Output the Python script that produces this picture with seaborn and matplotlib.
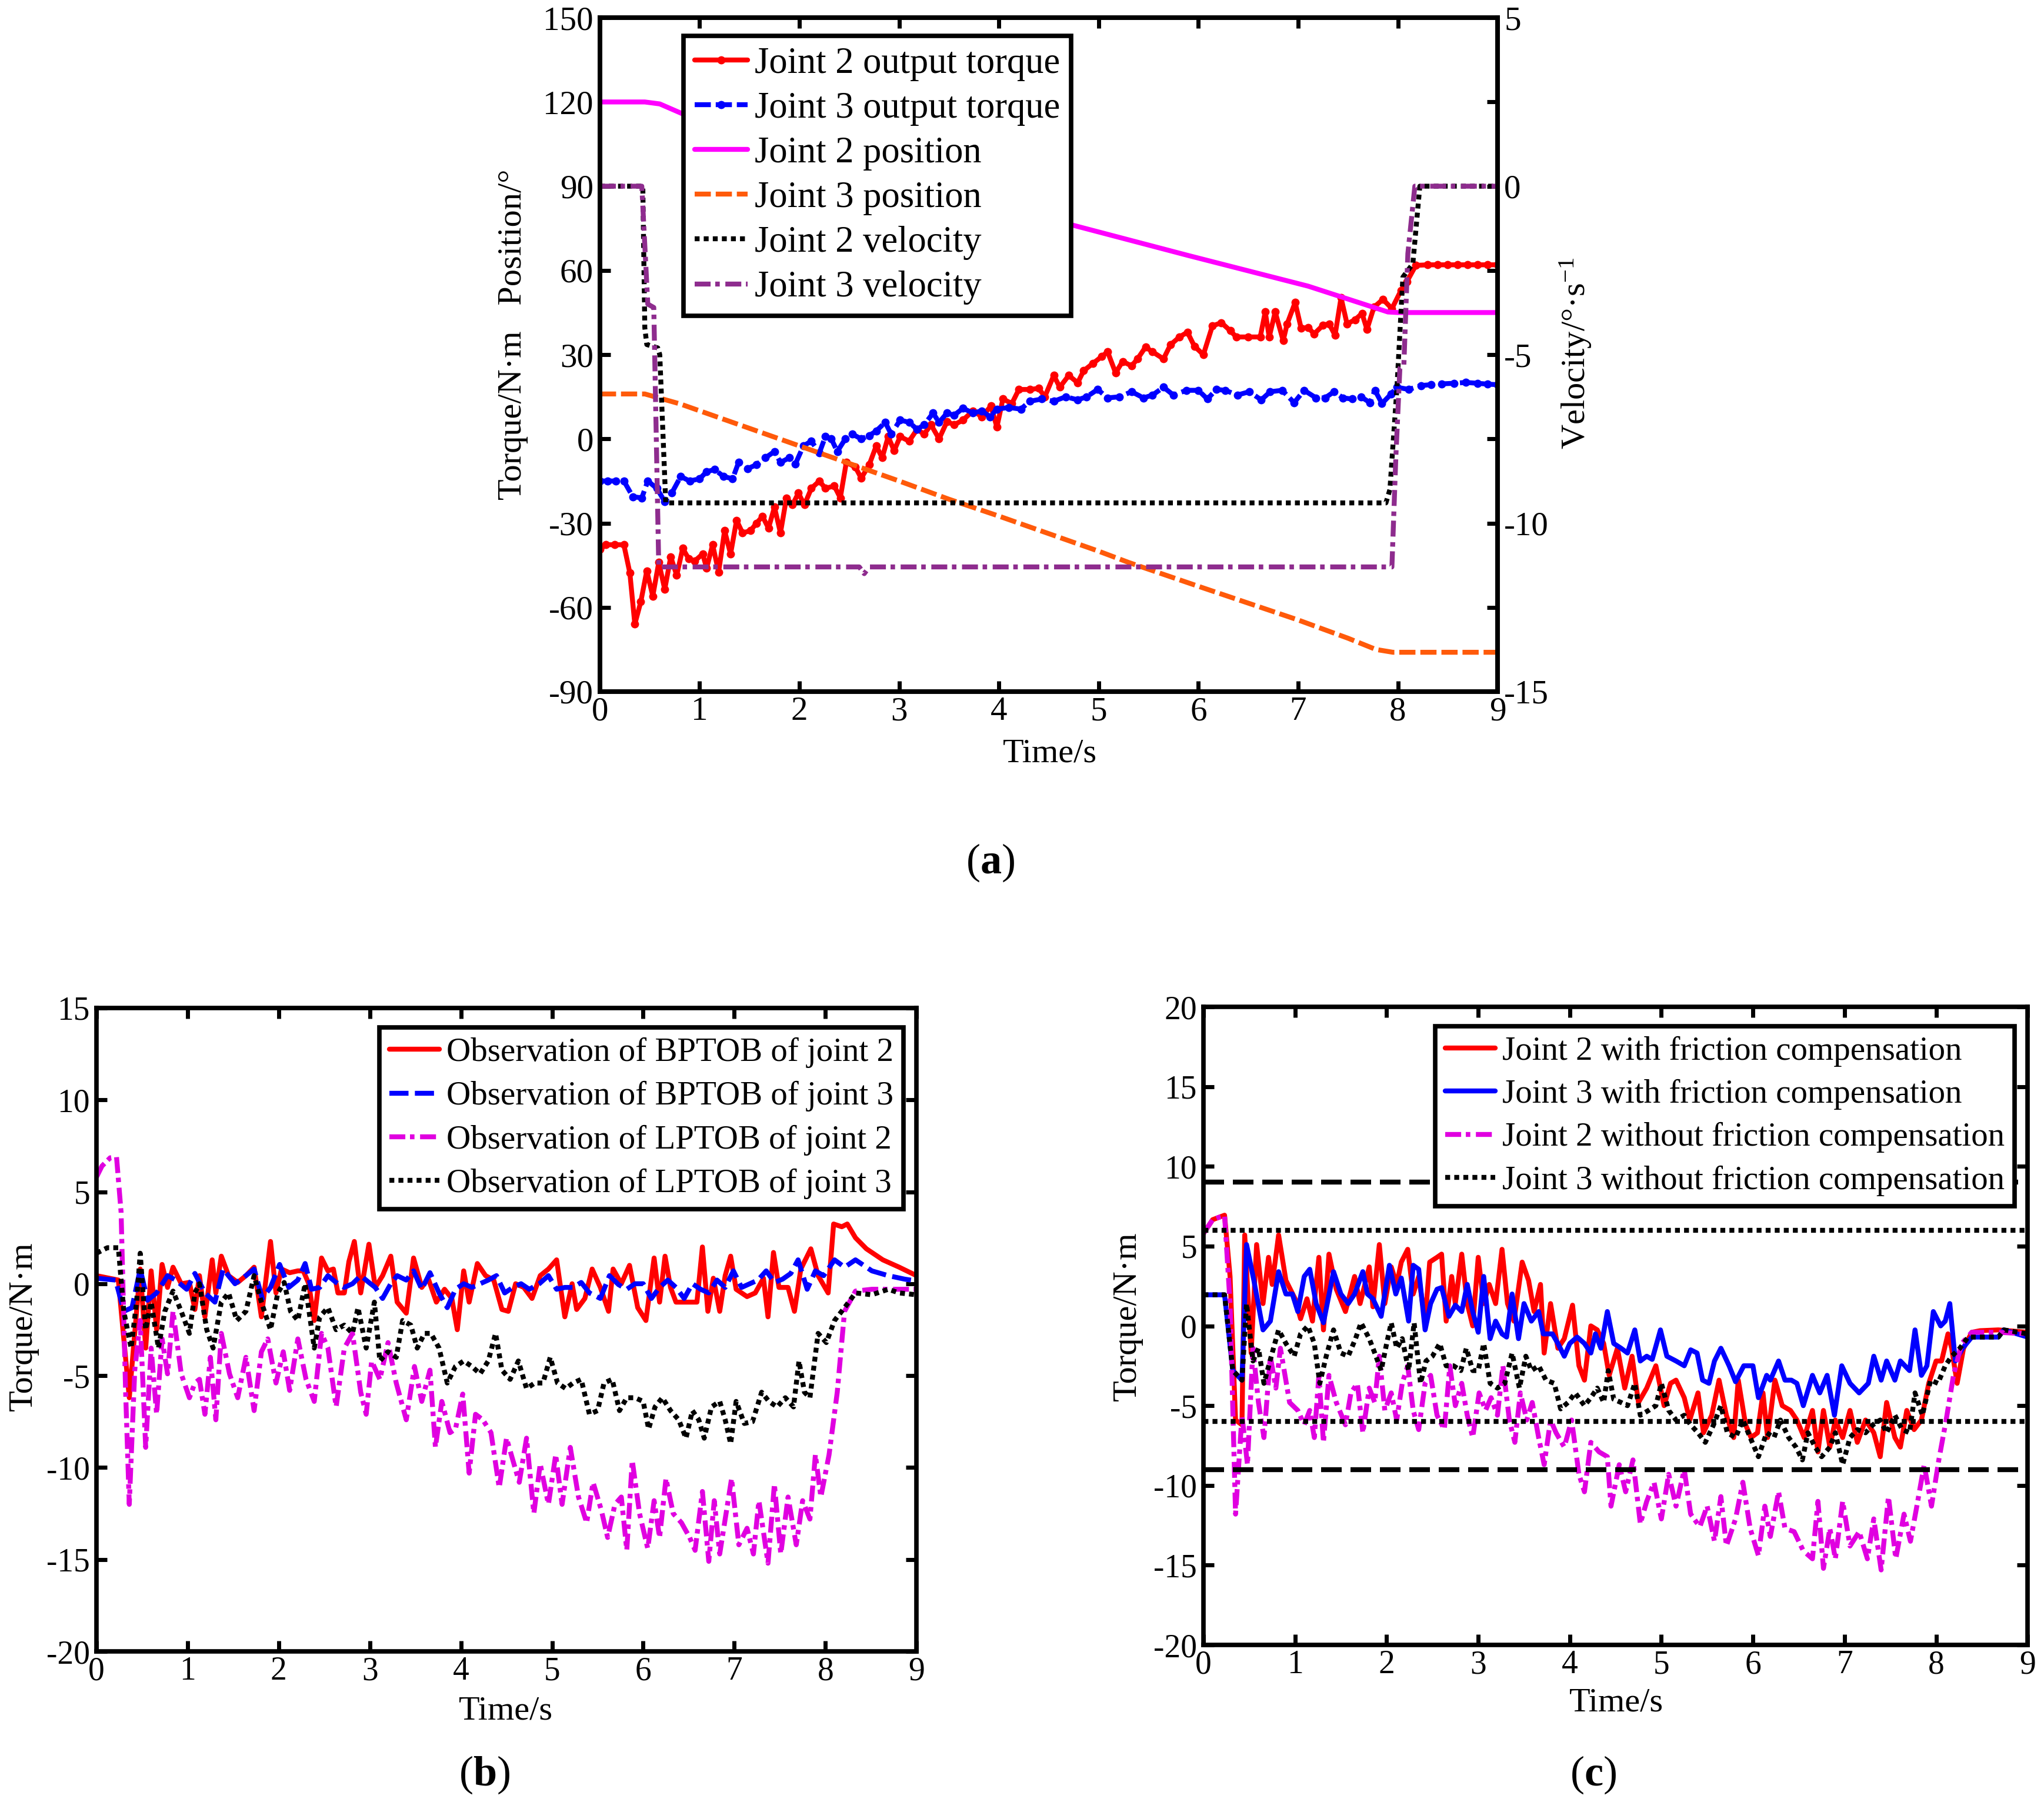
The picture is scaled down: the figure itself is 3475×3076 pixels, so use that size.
import numpy as np
import matplotlib
matplotlib.use("Agg")
import matplotlib.pyplot as plt
import seaborn as sns

# ---------------- data (time [s], value) ----------------
# (a) torque [N*m] and position [deg] on left axis, velocity [deg/s] on right axis
j2_torque = np.array([
    (0, -39.4), (0.06, -37.7), (0.15, -37.7), (0.24, -37.7), (0.3, -47.7), (0.35, -66), (0.41, -58),
    (0.47, -47), (0.53, -56), (0.59, -44), (0.65, -53.6), (0.71, -42), (0.77, -48.6), (0.83, -39),
    (0.89, -42.7), (0.95, -43.5), (1.03, -41), (1.07, -46), (1.13, -37.7), (1.19, -47.4), (1.25, -32.7),
    (1.31, -41), (1.37, -29), (1.43, -33.5), (1.51, -32.7), (1.57, -30), (1.63, -27.6), (1.69, -31.8),
    (1.75, -24.3), (1.81, -33.5), (1.87, -21), (1.93, -23.5), (1.99, -19.3), (2.05, -23.5), (2.12, -17.6),
    (2.2, -15), (2.26, -17.6), (2.35, -16.8), (2.41, -21), (2.47, -8.4), (2.56, -10), (2.62, -14),
    (2.7, -9.2), (2.77, -2.5), (2.83, -6.7), (2.89, 0.8), (2.95, -4.2), (3.01, 0.8), (3.1, -0.8),
    (3.18, 3.4), (3.25, 1.7), (3.32, 5), (3.4, 0), (3.48, 6.2), (3.55, 5), (3.64, 6.7), (3.74, 10),
    (3.83, 7.9), (3.92, 11.7), (3.98, 4.2), (4.04, 14.2), (4.13, 12.6), (4.2, 17.6), (4.31, 17.6),
    (4.4, 18), (4.46, 15), (4.55, 22.6), (4.61, 18.4), (4.7, 22.6), (4.79, 20), (4.85, 24.3),
    (4.94, 26.8), (5.03, 29.3), (5.09, 31), (5.17, 23.5), (5.24, 27.6), (5.33, 26), (5.39, 28.5),
    (5.47, 32.7), (5.54, 31), (5.65, 28.5), (5.72, 33.5), (5.81, 36.3), (5.89, 38), (5.96, 33),
    (6.05, 30), (6.14, 40.2), (6.23, 41.4), (6.32, 38.5), (6.38, 36.3), (6.5, 36.3), (6.62, 36.3),
    (6.67, 45.2), (6.71, 36.3), (6.77, 45.2), (6.85, 35), (6.89, 41), (6.97, 48.6), (7.03, 39.4),
    (7.1, 39.7), (7.16, 37.4), (7.25, 40.5), (7.31, 41), (7.37, 36.9), (7.43, 50.3), (7.49, 41),
    (7.57, 42.4), (7.64, 44.7), (7.69, 39), (7.76, 46.9), (7.85, 49.7), (7.94, 46.4), (8.03, 52.8),
    (8.09, 56), (8.18, 61.8), (8.3, 62), (8.4, 62), (8.5, 62), (8.6, 62), (8.7, 62), (8.8, 62),
    (8.9, 62), (9.0, 62)])

j3_torque = np.array([
    (0, -15), (0.08, -15), (0.16, -15), (0.24, -15), (0.33, -20.6), (0.42, -21), (0.48, -15),
    (0.57, -17.6), (0.65, -22.3), (0.72, -19.3), (0.81, -13.4), (0.9, -15), (1.0, -14.2), (1.07, -11.7),
    (1.15, -10.9), (1.24, -13.4), (1.33, -14.2), (1.39, -8.4), (1.48, -10.6), (1.57, -9.2), (1.66, -6.7),
    (1.75, -4.5), (1.81, -8.4), (1.9, -6.7), (1.96, -8.9), (2.04, -2.5), (2.12, -0.8), (2.2, -5),
    (2.26, 0.8), (2.32, 0), (2.38, -4.5), (2.46, 0), (2.53, 1.7), (2.62, 0), (2.7, 1.2), (2.77, 2.8),
    (2.86, 5.9), (2.92, 1.7), (3.01, 6.7), (3.1, 5.9), (3.18, 3.4), (3.25, 5), (3.34, 9.2), (3.4, 5.9),
    (3.48, 9.2), (3.55, 8.4), (3.64, 10.9), (3.74, 9.2), (3.83, 10), (3.91, 7.9), (3.98, 10.6),
    (4.1, 11.2), (4.22, 10.6), (4.31, 13.4), (4.43, 14.2), (4.55, 13.4), (4.67, 15), (4.79, 13.9),
    (4.88, 15), (4.99, 17.6), (5.09, 14.6), (5.21, 15), (5.33, 16.8), (5.45, 14.6), (5.54, 15.6),
    (5.65, 18.4), (5.75, 15.6), (5.88, 17.3), (6.0, 17.3), (6.09, 14.2), (6.18, 17.6), (6.27, 17.3),
    (6.39, 15.6), (6.51, 16.8), (6.63, 13.9), (6.72, 16.8), (6.84, 17.3), (6.96, 12.9), (7.06, 17.3),
    (7.18, 14.6), (7.27, 14.6), (7.36, 16.8), (7.45, 14.6), (7.54, 14.2), (7.63, 15), (7.72, 12.9),
    (7.77, 17.3), (7.84, 12.6), (7.93, 15.9), (7.99, 18.4), (8.11, 17.6), (8.23, 19), (8.33, 19.3),
    (8.44, 19.6), (8.56, 19.8), (8.68, 20.1), (8.8, 19.8), (8.9, 19.5), (9.0, 19.3)])

j2_position = np.array([
    (0, 120), (0.45, 120), (0.6, 119.3), (0.84, 115.6), (1.2, 112), (2, 104), (3, 94), (4, 84),
    (4.7, 76.5), (5.9, 65.3), (7.1, 54.4), (7.7, 47.5), (7.9, 45.2), (8.0, 45), (9.0, 45)])

j3_position = np.array([
    (0, 16), (0.45, 16), (0.6, 14.5), (0.8, 12.5), (1.0, 10), (2, -2.5), (3, -15), (3.5, -21.5),
    (4, -27.5), (5, -40), (5.3, -44), (6, -52.5), (7, -64.5), (7.5, -71), (7.78, -75), (7.95, -76),
    (9.0, -76)])

j2_velocity = np.array([
    (0, 0), (0.43, 0), (0.45, -4.2), (0.47, -4.7), (0.58, -4.8), (0.6, -5), (0.66, -9.4),
    (7.88, -9.4), (7.92, -9.0), (7.99, -6.0), (8.05, -2.7), (8.15, -2.3), (8.22, 0), (9.0, 0)])

j3_velocity = np.array([
    (0, 0), (0.42, 0), (0.48, -3.5), (0.54, -3.6), (0.59, -11.3), (2.6, -11.3), (2.65, -11.5),
    (2.7, -11.3), (7.94, -11.3), (7.98, -8), (8.02, -5.4), (8.06, -5.3), (8.1, -2), (8.17, 0),
    (9.0, 0)])

a_labels = ["Joint 2 output torque", "Joint 3 output torque", "Joint 2 position",
            "Joint 3 position", "Joint 2 velocity", "Joint 3 velocity"]

# (b) observer outputs [N*m]
bptob_j2 = np.array([
    (0, 0.44), (0.24, 0.2), (0.3, -3), (0.36, -6.2), (0.44, -1.5), (0.48, 0.8), (0.54, -3.5), (0.6, 0.7),
    (0.66, -2.5), (0.72, 1.05), (0.78, -0.2), (0.84, 0.9), (0.93, 0), (1.02, 0.07), (1.08, -1.4),
    (1.13, 0.44), (1.19, -1.8), (1.27, 1.3), (1.31, -0.5), (1.37, 1.5), (1.45, 0.44), (1.55, 0.07),
    (1.64, 0.44), (1.73, 0.9), (1.81, -1.8), (1.91, 2.3), (1.97, -0.5), (2.03, 0.8), (2.12, 0.6),
    (2.21, 0.7), (2.27, 0.7), (2.33, 0), (2.39, -2), (2.47, 1.4), (2.54, 0.7), (2.6, 0.8), (2.65, -0.5),
    (2.72, -0.5), (2.77, 1.2), (2.83, 2.3), (2.9, -0.5), (2.99, 2.15), (3.06, -0.2), (3.14, 0.44),
    (3.23, 1.5), (3.3, -1), (3.4, -1.6), (3.48, 1.4), (3.57, -0.2), (3.64, 0.3), (3.73, -1), (3.82, -0.3),
    (3.9, -0.8), (3.96, -2.5), (4.03, 0.7), (4.09, -1), (4.18, 1.1), (4.27, 0.44), (4.36, 0.2),
    (4.45, -1.4), (4.52, -1.5), (4.6, 0), (4.69, -0.2), (4.78, -0.8), (4.87, 0.44), (4.96, 0.8),
    (5.05, 1.3), (5.14, -1.8), (5.22, 0), (5.27, -1.4), (5.36, -0.8), (5.44, 0.8), (5.53, -0.2),
    (5.62, -1.5), (5.67, 0.8), (5.76, 0), (5.85, 1), (5.94, -1.3), (6.03, -2), (6.12, 1.4), (6.18, -1),
    (6.24, 1.5), (6.3, -0.2), (6.36, -1), (6.48, -1), (6.59, -1), (6.65, 2), (6.71, -1.5), (6.77, 0.3),
    (6.84, -1.5), (6.9, 0.44), (6.96, 1.5), (7.02, -0.3), (7.14, -0.7), (7.23, -0.5), (7.32, 0.3),
    (7.37, -1.8), (7.43, 1.7), (7.49, -0.2), (7.59, -0.2), (7.66, -1.5), (7.73, 0.8), (7.84, 1.9),
    (7.92, 0.44), (8.03, -0.5), (8.09, 3.25), (8.18, 3.1), (8.24, 3.25), (8.33, 2.5), (8.45, 1.9),
    (8.63, 1.3), (8.81, 0.9), (9.0, 0.44)])

bptob_j3 = np.array([
    (0, 0.3), (0.21, 0.2), (0.3, -1.5), (0.39, -1.3), (0.48, 0.8), (0.56, -0.9), (0.66, -0.5),
    (0.78, 0.44), (0.87, 0.2), (0.99, -0.3), (1.08, 0.56), (1.19, -0.5), (1.3, -1), (1.39, 0.8),
    (1.52, 0), (1.64, 0.44), (1.73, 0.8), (1.82, -0.8), (1.91, -0.2), (2.01, 1.05), (2.11, -0.2),
    (2.21, 0.2), (2.29, 1.1), (2.36, -0.3), (2.45, -0.2), (2.54, 0.44), (2.63, 0.07), (2.72, -0.2),
    (2.81, 0), (2.9, 0.44), (2.99, 0.07), (3.06, -0.2), (3.14, -0.8), (3.23, 0), (3.3, 0.44), (3.4, 0.2),
    (3.48, 0.7), (3.57, -0.3), (3.66, 0.6), (3.76, -0.5), (3.85, -1.3), (3.94, -0.3), (4.03, 0),
    (4.12, -0.2), (4.21, 0), (4.3, 0.2), (4.39, 0.44), (4.48, -0.5), (4.57, -0.2), (4.66, 0),
    (4.75, -0.3), (4.86, 0), (4.96, 0.44), (5.05, -0.3), (5.14, -0.2), (5.23, -0.2), (5.32, 0.07),
    (5.41, -0.5), (5.53, -0.8), (5.63, 0.44), (5.73, -0.05), (5.82, -0.3), (5.91, 0), (6.0, 0),
    (6.09, -0.8), (6.18, -0.2), (6.27, 0.2), (6.36, -0.2), (6.45, -0.8), (6.54, 0), (6.63, -0.3),
    (6.72, -0.5), (6.81, 0.2), (6.9, -0.2), (6.99, 0.7), (7.08, -0.2), (7.17, 0), (7.26, 0.2),
    (7.35, 0.7), (7.44, 0.07), (7.53, 0.25), (7.62, 0.56), (7.7, 1.3), (7.8, -0.3), (7.89, 0.7),
    (7.98, 0.44), (8.1, 1.3), (8.21, 0.9), (8.33, 1.3), (8.51, 0.7), (8.69, 0.44), (8.87, 0.25),
    (9.0, 0.15)])

lptob_j2 = np.array([
    (0, 5.8), (0.06, 6.4), (0.15, 6.85), (0.22, 6.9), (0.27, 3.9), (0.32, -5.9), (0.36, -12),
    (0.42, -4.7), (0.48, -2), (0.54, -8.9), (0.6, -3.5), (0.66, -7.1), (0.72, -3), (0.78, -4.9),
    (0.84, -1.5), (0.93, -4.9), (1.02, -6.2), (1.08, -5.4), (1.13, -5.2), (1.19, -7.1), (1.25, -4),
    (1.31, -7.4), (1.37, -2.7), (1.46, -4.9), (1.55, -6.2), (1.64, -4), (1.73, -6.9), (1.81, -3.7),
    (1.88, -3), (1.97, -5.4), (2.05, -3.7), (2.12, -5.8), (2.21, -3), (2.3, -5.2), (2.39, -6.4),
    (2.47, -2.7), (2.54, -3.5), (2.63, -6.7), (2.72, -3.5), (2.81, -2.7), (2.9, -5.9), (2.96, -7.1),
    (3.02, -4.2), (3.11, -5.2), (3.2, -3.2), (3.29, -5.4), (3.4, -7.4), (3.49, -4.5), (3.57, -6.4),
    (3.66, -4.7), (3.72, -8.9), (3.79, -6.4), (3.88, -8.1), (3.94, -7.9), (4.02, -6), (4.09, -10.3),
    (4.16, -7.1), (4.24, -7.4), (4.33, -8.1), (4.42, -11.1), (4.5, -8.4), (4.57, -9.6), (4.64, -10.8),
    (4.72, -8.4), (4.8, -12.5), (4.87, -9.8), (4.96, -12), (5.04, -9.3), (5.11, -12), (5.2, -8.9),
    (5.29, -11.6), (5.38, -13), (5.45, -10.8), (5.54, -12.3), (5.61, -13.8), (5.69, -12), (5.76, -11.6),
    (5.82, -14.5), (5.88, -9.6), (5.96, -12.5), (6.05, -14.4), (6.12, -11.8), (6.18, -13.8),
    (6.25, -10.6), (6.33, -12.5), (6.42, -13), (6.51, -13.8), (6.57, -14.5), (6.65, -11.3),
    (6.72, -15.1), (6.78, -11.8), (6.84, -14.7), (6.9, -12.8), (6.97, -10.6), (7.05, -14.2),
    (7.14, -13.3), (7.21, -14.7), (7.27, -11.8), (7.37, -15.2), (7.44, -10.9), (7.51, -14.7),
    (7.59, -11.6), (7.68, -14.2), (7.75, -11.8), (7.83, -12.8), (7.89, -9.3), (7.95, -11.6),
    (8.04, -9.3), (8.13, -5.9), (8.21, -1.5), (8.33, -0.4), (8.51, -0.3), (9.0, -0.3)])

lptob_j3 = np.array([
    (0, 1.66), (0.12, 1.96), (0.24, 1.96), (0.3, -1.5), (0.38, -3.5), (0.44, -1), (0.48, 1.66),
    (0.54, -2.5), (0.6, -1), (0.68, -3.5), (0.75, -1.5), (0.84, -0.4), (0.93, -1.5), (1.02, -2.7),
    (1.08, -0.5), (1.13, 0), (1.21, -2.5), (1.28, -3.5), (1.37, -1), (1.45, -0.5), (1.54, -2),
    (1.64, -1.5), (1.73, 0.44), (1.81, -1), (1.91, -2.5), (1.99, -0.5), (2.06, 0.07), (2.13, -1.5),
    (2.21, -2), (2.29, 0), (2.39, -3.5), (2.45, -1.8), (2.54, -1.3), (2.63, -2.5), (2.72, -2.25),
    (2.81, -2.7), (2.87, -1.3), (2.96, -3.5), (3.05, -1), (3.11, -4.2), (3.2, -3.7), (3.29, -4),
    (3.36, -2), (3.45, -2.25), (3.52, -3.5), (3.6, -2.7), (3.67, -2.7), (3.76, -3.5), (3.85, -5.4),
    (3.94, -4.5), (4.03, -4.2), (4.12, -4.5), (4.21, -4.9), (4.3, -4.2), (4.38, -2.7), (4.45, -4.7),
    (4.54, -5.2), (4.63, -4.2), (4.72, -5.7), (4.81, -5.4), (4.9, -5.4), (4.98, -4), (5.06, -5.4),
    (5.15, -5.7), (5.23, -5.4), (5.32, -5.2), (5.41, -7.1), (5.5, -6.9), (5.57, -5.4), (5.66, -5.2),
    (5.74, -6.9), (5.82, -6.2), (5.91, -6.2), (6.0, -6.4), (6.06, -7.9), (6.13, -6.7), (6.21, -6.2),
    (6.3, -6.9), (6.39, -7.4), (6.47, -8.4), (6.54, -6.9), (6.61, -7.4), (6.67, -8.4), (6.75, -6.7),
    (6.84, -6.4), (6.9, -7.4), (6.96, -8.7), (7.02, -6.4), (7.11, -7.6), (7.2, -7.5), (7.3, -5.9),
    (7.38, -6.4), (7.47, -6.7), (7.56, -6.2), (7.65, -6.7), (7.71, -4.2), (7.77, -5.9), (7.83, -6.2),
    (7.92, -2.7), (8.01, -3.2), (8.1, -2), (8.21, -1.3), (8.33, -0.5), (8.51, -0.6), (8.69, -0.3),
    (8.81, -0.5), (9.0, -0.6)])

b_labels = ["Observation of BPTOB of joint 2", "Observation of BPTOB of joint 3",
            "Observation of LPTOB of joint 2", "Observation of LPTOB of joint 3"]

# (c) tracking error with / without friction compensation [N*m]
j2_with = np.array([
    (0, 5.8), (0.1, 6.66), (0.23, 6.94), (0.29, 3.1), (0.35, -5.9), (0.42, -6.2), (0.45, 5.7),
    (0.52, -1.7), (0.58, 5.1), (0.65, 1.4), (0.71, 4.3), (0.75, 2.6), (0.82, 5.7), (0.9, 2.85),
    (1.0, 1.7), (1.06, 0.45), (1.13, 1.7), (1.19, 0.3), (1.26, 4.3), (1.31, -0.25), (1.37, 4.5),
    (1.45, 2.3), (1.55, 0.9), (1.65, 3.1), (1.71, 1.4), (1.81, 3.7), (1.85, 1.2), (1.92, 5.1),
    (1.98, 1.4), (2.05, 3.7), (2.11, 2.6), (2.16, 4), (2.23, 4.8), (2.29, 2), (2.35, 3.1), (2.42, 0.3),
    (2.47, 4), (2.55, 4.3), (2.6, 4.5), (2.65, 0.3), (2.71, 3.1), (2.75, 1.4), (2.82, 4.5), (2.88, 1.4),
    (2.94, 0), (3.0, 4.3), (3.06, 1.4), (3.12, 2.6), (3.19, 1.4), (3.26, 4.8), (3.32, 1.4), (3.39, 0.3),
    (3.48, 4), (3.55, 2.85), (3.61, 0.9), (3.68, 2.6), (3.72, -1.7), (3.79, 1.4), (3.87, -1.4),
    (3.94, -0.8), (4.03, 1.3), (4.1, -2.5), (4.16, -3.4), (4.23, 0), (4.3, -0.25), (4.37, -1.1),
    (4.43, -3.1), (4.52, -1.4), (4.6, -3.9), (4.68, -1.9), (4.75, -4.8), (4.84, -3.9), (4.94, -2.5),
    (5.03, -5), (5.1, -3.6), (5.16, -3.4), (5.25, -4.5), (5.31, -5.9), (5.4, -4.2), (5.46, -6.7),
    (5.55, -5.6), (5.63, -3.4), (5.71, -5.6), (5.79, -7), (5.84, -3.4), (5.92, -6.2), (5.98, -7),
    (6.05, -6.7), (6.11, -4.2), (6.16, -7), (6.24, -3.4), (6.32, -5), (6.41, -5.3), (6.48, -5.9),
    (6.56, -7), (6.65, -5.3), (6.71, -7.9), (6.77, -5.3), (6.84, -7.6), (6.9, -5.9), (6.98, -7),
    (7.06, -5.3), (7.14, -7.3), (7.23, -5.9), (7.32, -6.7), (7.39, -8.2), (7.46, -4.8), (7.55, -7),
    (7.61, -7.6), (7.68, -5.3), (7.76, -6.5), (7.84, -5.9), (7.92, -3.6), (8.0, -2.2), (8.06, -2.2),
    (8.13, -0.5), (8.17, -1.4), (8.23, -3.6), (8.3, -1.4), (8.39, -0.4), (8.48, -0.3), (8.68, -0.25),
    (9.0, -0.4)])

j3_with = np.array([
    (0, 1.95), (0.23, 1.95), (0.32, -2.8), (0.42, -3.4), (0.47, 5.1), (0.55, 2.85), (0.65, -0.25),
    (0.73, 0.3), (0.82, 3.4), (0.9, 2), (0.97, 2), (1.03, 0.9), (1.1, 3.1), (1.16, 3.55), (1.23, 1.4),
    (1.31, 0.2), (1.42, 3.4), (1.5, 2), (1.58, 1.4), (1.65, 2), (1.74, 3.4), (1.79, 2), (1.85, 1.7),
    (1.94, 0.6), (2.03, 3.8), (2.1, 2), (2.16, 3), (2.24, 0.3), (2.29, 3.8), (2.35, 3.55), (2.42, -0.25),
    (2.48, 1.4), (2.55, 2.3), (2.6, 2.4), (2.68, 0.6), (2.75, 1.3), (2.82, 0.9), (2.88, 2.6), (2.94, 0.9),
    (3.0, -0.4), (3.06, 3.1), (3.13, -0.8), (3.19, 0.3), (3.26, -0.5), (3.31, -0.7), (3.37, 2),
    (3.44, -0.8), (3.5, 1.4), (3.58, 0.3), (3.66, 0.9), (3.71, -0.5), (3.81, -0.5), (3.87, -1.1),
    (3.94, -1.9), (4.0, -1.1), (4.08, -0.7), (4.16, -1.1), (4.23, -1.7), (4.28, -0.5), (4.34, -1.4),
    (4.41, 0.9), (4.48, -1.1), (4.56, -1.4), (4.63, -1.7), (4.71, -0.25), (4.77, -2.2), (4.84, -1.9),
    (4.9, -2.1), (4.99, -0.25), (5.06, -1.9), (5.16, -2.2), (5.25, -2.5), (5.32, -1.5), (5.39, -1.7),
    (5.45, -3.4), (5.52, -3.6), (5.58, -2.2), (5.65, -1.4), (5.74, -2.5), (5.81, -3.5), (5.9, -2.5),
    (6.0, -2.5), (6.06, -4.5), (6.15, -3.1), (6.19, -3.4), (6.28, -2.2), (6.35, -3.4), (6.42, -3.4),
    (6.48, -3.6), (6.55, -5), (6.65, -3.1), (6.73, -4.2), (6.81, -3.1), (6.89, -5.6), (6.97, -2.5),
    (7.06, -3.6), (7.16, -4.2), (7.26, -3.6), (7.32, -1.9), (7.4, -3.4), (7.46, -2.2), (7.55, -3.4),
    (7.61, -2.2), (7.71, -2.8), (7.77, -0.25), (7.84, -3.1), (7.9, -2.5), (7.97, 0.9), (8.05, 0),
    (8.1, 0.3), (8.15, 1.4), (8.21, -2.2), (8.29, -1.4), (8.39, -0.7), (8.68, -0.7), (8.74, -0.25),
    (9.0, -0.7)])

j2_without = np.array([
    (0, 5.8), (0.1, 6.66), (0.23, 6.94), (0.29, 1.4), (0.35, -11.8), (0.42, -5.6), (0.48, -8.7),
    (0.54, -1.4), (0.6, -4.8), (0.66, -7), (0.73, -1.9), (0.79, -3.9), (0.84, -1.4), (0.94, -4.8),
    (1.03, -5.3), (1.1, -6.2), (1.16, -5.3), (1.21, -7), (1.26, -3.1), (1.31, -7.3), (1.37, -3.1),
    (1.45, -4.8), (1.55, -6.2), (1.61, -4.2), (1.68, -3.6), (1.74, -6.7), (1.81, -3.9), (1.87, -4.8),
    (1.92, -1.9), (1.98, -5.3), (2.05, -4.2), (2.11, -5.9), (2.17, -3.6), (2.23, -2.5), (2.29, -5.3),
    (2.35, -6.5), (2.42, -3.6), (2.48, -3.1), (2.55, -5.6), (2.63, -6.5), (2.69, -2.5), (2.75, -5),
    (2.82, -3.6), (2.88, -5.6), (2.94, -7), (3.01, -4.2), (3.08, -5.3), (3.14, -4.5), (3.21, -5.6),
    (3.27, -2.5), (3.34, -5.9), (3.4, -7.3), (3.46, -4.2), (3.53, -5.9), (3.59, -4.8), (3.66, -7),
    (3.72, -8.7), (3.79, -5.9), (3.85, -6.7), (3.94, -7.6), (4.02, -5.9), (4.1, -9.3), (4.16, -10.4),
    (4.23, -7.3), (4.32, -7.9), (4.41, -8.2), (4.45, -11.3), (4.54, -8.7), (4.61, -10.4), (4.69, -8.4),
    (4.77, -12.4), (4.84, -11), (4.92, -9.8), (5.0, -12.1), (5.08, -9.3), (5.16, -11.3), (5.25, -9),
    (5.32, -11.8), (5.42, -12.6), (5.5, -11.3), (5.58, -13.5), (5.65, -10.7), (5.71, -13.8),
    (5.81, -12.1), (5.89, -9.8), (5.97, -12.7), (6.06, -14.4), (6.13, -11.3), (6.19, -13.2),
    (6.28, -10.4), (6.35, -12.7), (6.45, -12.9), (6.55, -14.1), (6.65, -14.6), (6.71, -11),
    (6.77, -15.2), (6.84, -12.7), (6.9, -14.6), (6.98, -11), (7.06, -13.8), (7.16, -12.9),
    (7.25, -14.6), (7.32, -12.1), (7.4, -15.3), (7.48, -10.7), (7.56, -14.6), (7.65, -11.8),
    (7.72, -13.5), (7.79, -11.3), (7.87, -8.7), (7.95, -11.3), (8.03, -8.4), (8.11, -5.9),
    (8.19, -3.1), (8.28, -1.1), (8.39, -0.4), (8.68, -0.4), (9.0, -0.5)])

j3_without = np.array([
    (0, 1.95), (0.23, 1.95), (0.32, -2.8), (0.42, -3.4), (0.47, 1.4), (0.54, -2.2), (0.6, -1.4),
    (0.66, -3.6), (0.74, -1.9), (0.82, -0.25), (0.9, -1.1), (0.99, -1.9), (1.06, -0.5), (1.14, 0),
    (1.21, -1.1), (1.27, -3.6), (1.34, -1.9), (1.42, -0.25), (1.5, -1.7), (1.58, -1.9), (1.66, -0.8),
    (1.72, 0.2), (1.81, -0.8), (1.87, -1.7), (1.94, -2.8), (2.0, -1.1), (2.05, 0.2), (2.11, -1.4),
    (2.17, -0.8), (2.24, -2.8), (2.3, 0.2), (2.37, -3.6), (2.43, -2.2), (2.5, -1.9), (2.58, -1.1),
    (2.65, -2.5), (2.73, -2.5), (2.81, -2.8), (2.87, -1.4), (2.94, -2.8), (3.0, -2.8), (3.06, -1.1),
    (3.13, -3.6), (3.21, -3.9), (3.29, -3.6), (3.37, -1.7), (3.45, -3.9), (3.52, -1.9), (3.58, -2.8),
    (3.66, -2.5), (3.74, -3.4), (3.83, -3.6), (3.9, -5.2), (3.98, -4.8), (4.06, -4.2), (4.16, -5),
    (4.23, -4.5), (4.3, -3.9), (4.37, -4.8), (4.42, -2.8), (4.48, -4.6), (4.56, -4.8), (4.63, -5),
    (4.71, -3.6), (4.77, -5.6), (4.86, -5.3), (4.94, -5), (5.0, -3.6), (5.08, -5.3), (5.16, -5.9),
    (5.25, -5.6), (5.32, -6.2), (5.4, -6.7), (5.48, -7.3), (5.57, -6.2), (5.65, -5), (5.72, -6.7),
    (5.81, -7), (5.89, -5.9), (5.97, -7), (6.06, -8.2), (6.15, -6.7), (6.23, -7), (6.3, -5.9),
    (6.39, -7), (6.47, -7.6), (6.54, -8.4), (6.6, -6.7), (6.68, -7.6), (6.75, -8.2), (6.84, -7.6),
    (6.9, -6.7), (6.98, -8.7), (7.06, -7), (7.14, -6.5), (7.23, -6.7), (7.31, -6.2), (7.39, -5.9),
    (7.46, -6.7), (7.55, -5.6), (7.63, -6.5), (7.71, -6.7), (7.77, -4.2), (7.85, -5.6), (7.94, -3.4),
    (8.02, -3.6), (8.1, -2.5), (8.17, -1.9), (8.26, -1.4), (8.35, -0.7), (8.68, -0.7), (8.74, -0.25),
    (9.0, -0.5)])

c_labels = ["Joint 2 with friction compensation", "Joint 3 with friction compensation",
            "Joint 2 without friction compensation", "Joint 3 without friction compensation"]
limit_outer = 9   # dashed bounds
limit_inner = 6   # dotted bounds

# ---------------- style ----------------
sns.set_theme(style="ticks", rc={"axes.edgecolor": "black", "xtick.color": "black",
                                 "ytick.color": "black", "text.color": "black",
                                 "axes.labelcolor": "black"})
plt.rcParams["font.family"] = ["Liberation Serif", "DejaVu Serif"]
plt.rcParams["mathtext.fontset"] = "custom"
plt.rcParams["mathtext.rm"] = "Liberation Serif"
plt.rcParams["mathtext.it"] = "Liberation Serif:italic"
plt.rcParams["mathtext.bf"] = "Liberation Serif:bold"
plt.rcParams["axes.unicode_minus"] = False

LW = 6
SPINE = 5.5
DOT = (0, (1, 0.85))
DASH = (0, (3.3, 1.0))
DASH_B = (0, (3.9, 1.3))
DASHDOT = (0, (3.25, 0.95, 0.92, 1.14))


def draw(ax, arr, color, ls="-", label=None, **kw):
    sns.lineplot(x=arr[:, 0], y=arr[:, 1], ax=ax, sort=False, estimator=None, legend=False,
                 color=color, linewidth=LW, linestyle=ls, label=label, **kw)


def frame(ax, fs):
    for s in ax.spines.values():
        s.set_visible(True)
        s.set_linewidth(SPINE)
        s.set_color("black")
    ax.tick_params(direction="in", length=13, width=5, labelsize=fs)
    ax.tick_params(axis="x", pad=6)
    ax.tick_params(axis="y", pad=8)


def legend(ax, handles, labels, anchor, loc, fs, hl, spacing):
    leg = ax.legend(handles, labels, loc=loc, bbox_to_anchor=anchor, fontsize=fs, frameon=True,
                    fancybox=False, edgecolor="black", framealpha=1, handlelength=hl,
                    handletextpad=0.2, labelspacing=spacing, borderpad=0.3, borderaxespad=0)
    leg.get_frame().set_linewidth(SPINE)
    return leg


fig = plt.figure(figsize=(34.75, 30.76), dpi=100)

# ---------------- (a) ----------------
ax = fig.add_axes([0.2935, 0.6177, 0.4392, 0.3725])
draw(ax, j2_torque, "#ff0000", "-", a_labels[0], marker=".", markersize=20, markeredgewidth=0)
draw(ax, j3_torque, "#0000ff", DASH, a_labels[1], marker=".", markersize=20, markeredgewidth=0)
draw(ax, j2_position, "#ff00ff", "-", a_labels[2])
draw(ax, j3_position, "#ff5a0a", DASH, a_labels[3])
ax.set_xlim(0, 9)
ax.set_ylim(-90, 150)
ax.set_xticks(range(0, 10))
ax.set_yticks(range(-90, 151, 30))
ax2 = ax.twinx()
draw(ax2, j2_velocity, "black", DOT, a_labels[4])
draw(ax2, j3_velocity, "#8e2c8e", DASHDOT, a_labels[5])
ax2.set_ylim(-15, 5)
vt = np.arange(-15, 5.1, 2.5)
ax2.set_yticks(vt)
ax2.set_yticklabels([f"{v:g}" if v % 5 == 0 else "" for v in vt])
frame(ax, 41)
frame(ax2, 41)
ax.tick_params(top=True, right=False, labelright=False)
ax2.tick_params(right=True, left=False, labelleft=False)
ax.set_xlabel("Time/s", fontsize=42, va="center")
ax.xaxis.set_label_coords(0.501, -0.092)
ax.set_ylabel("Torque/N·m   Position/°", fontsize=42, va="center")
ax.yaxis.set_label_coords(-0.097, 0.530)
ax2.set_ylabel("Velocity/°·s$^{-1}$", fontsize=42, va="center")
ax2.yaxis.set_label_coords(1.087, 0.502)
h1, l1 = ax.get_legend_handles_labels()
h2, l2 = ax2.get_legend_handles_labels()
legend(ax2, h1 + h2, l1 + l2, (0.093, 0.973), "upper left", 45, 1.44, 0.29)

# ---------------- (b) ----------------
bx = fig.add_axes([0.0472, 0.0871, 0.4012, 0.3557])
draw(bx, bptob_j2, "#ff0000", "-", b_labels[0])
draw(bx, bptob_j3, "#0000ff", DASH_B, b_labels[1])
draw(bx, lptob_j2, "#e000e0", DASHDOT, b_labels[2])
draw(bx, lptob_j3, "black", DOT, b_labels[3])
bx.set_xlim(0, 9)
bx.set_ylim(-20, 15)
bx.set_xticks(range(0, 10))
bx.set_yticks(range(-20, 16, 5))
frame(bx, 40)
bx.tick_params(top=True, right=True)
bx.set_xlabel("Time/s", fontsize=42, va="center")
bx.xaxis.set_label_coords(0.499, -0.093)
bx.set_ylabel("Torque/N·m", fontsize=42, va="center")
bx.yaxis.set_label_coords(-0.089, 0.505)
hb, lb = bx.get_legend_handles_labels()
legend(bx, hb, lb, (0.984, 0.970), "upper right", 41, 1.5, 0.39)

# ---------------- (c) ----------------
cx = fig.add_axes([0.5888, 0.0907, 0.4032, 0.3527])
draw(cx, j2_with, "#ff0000", "-", c_labels[0])
draw(cx, j3_with, "#0000ff", "-", c_labels[1])
draw(cx, j2_without, "#e000e0", DASHDOT, c_labels[2])
draw(cx, j3_without, "black", DOT, c_labels[3])
for lim in (limit_outer, -limit_outer):
    cx.axhline(lim, color="black", linewidth=LW, linestyle=(0, (4.2, 1.8)), zorder=5)
for lim in (limit_inner, -limit_inner):
    cx.axhline(lim, color="black", linewidth=LW, linestyle=DOT, zorder=5)
cx.set_xlim(0, 9)
cx.set_ylim(-20, 20)
cx.set_xticks(range(0, 10))
cx.set_yticks(range(-20, 21, 5))
frame(cx, 40)
cx.tick_params(top=True, right=True)
cx.set_xlabel("Time/s", fontsize=42, va="center")
cx.xaxis.set_label_coords(0.501, -0.091)
cx.set_ylabel("Torque/N·m", fontsize=42, va="center")
cx.yaxis.set_label_coords(-0.092, 0.515)
hc, lc = cx.get_legend_handles_labels()
leg_c = legend(cx, hc, lc, (0.984, 0.970), "upper right", 41, 1.5, 0.37)
leg_c.set_zorder(10)

# panel tags
fig.text(0.4846, 0.5231, r"($\mathbf{a}$)", fontsize=52, ha="center", va="center")
fig.text(0.2371, 0.0189, r"($\mathbf{b}$)", fontsize=52, ha="center", va="center")
fig.text(0.7793, 0.0189, r"($\mathbf{c}$)", fontsize=52, ha="center", va="center")

fig.savefig("out.png", dpi=100)
